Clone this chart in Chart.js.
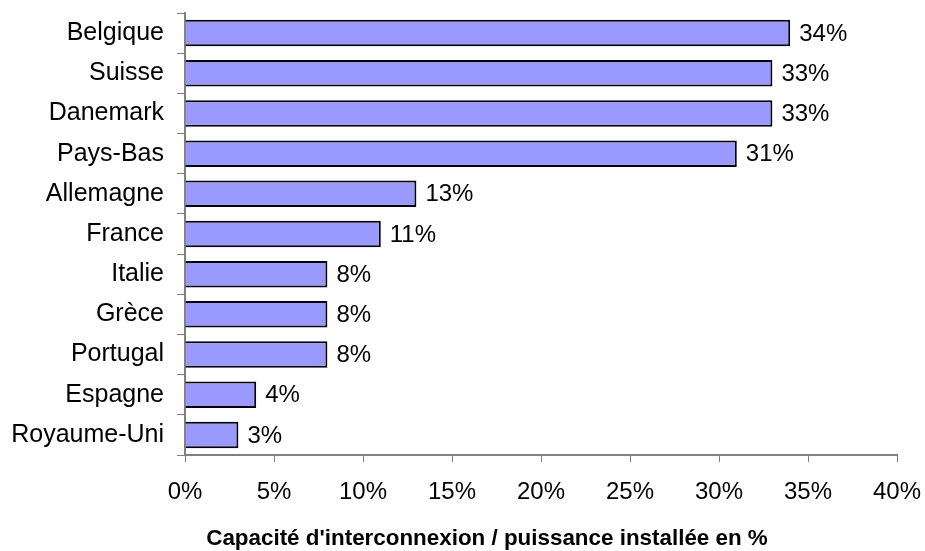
<!DOCTYPE html>
<html>
<head>
<meta charset="utf-8">
<script src="https://cdn.jsdelivr.net/npm/chart.js@4/dist/chart.umd.min.js"></script>
<style>
  html, body { margin: 0; padding: 0; background: #fff; }
  canvas { display: block; }
</style>
</head>
<body>
<canvas id="chart" width="925" height="551"></canvas>
<script>
// Interconnection capacity as a share of installed capacity, by country
const countries = ['Belgique', 'Suisse', 'Danemark', 'Pays-Bas', 'Allemagne', 'France',
  'Italie', 'Grèce', 'Portugal', 'Espagne', 'Royaume-Uni'];
const ratios = [34, 33, 33, 31, 13, 11, 8, 8, 8, 4, 3];
const axisTitle = "Capacité d'interconnexion / puissance installée en %";

const FONT = 'Liberation Sans';

// writes "34%" etc. just right of each bar end
const barLabels = {
  id: 'barLabels',
  afterDatasetsDraw(chart) {
    const ctx = chart.ctx;
    const meta = chart.getDatasetMeta(0);
    ctx.save();
    ctx.font = '24px "' + FONT + '"';
    ctx.fillStyle = '#000';
    ctx.textAlign = 'left';
    ctx.textBaseline = 'middle';
    meta.data.forEach((bar, i) => {
      ctx.fillText(ratios[i] + '%', bar.x + 9, bar.y + 1);
    });
    ctx.restore();
  }
};

// bold axis caption under the tick labels, sitting a bit left of the plot centre
const xCaption = {
  id: 'xCaption',
  afterDraw(chart) {
    const ctx = chart.ctx;
    ctx.save();
    ctx.font = 'bold 22.4px "' + FONT + '"';
    ctx.fillStyle = '#000';
    ctx.textAlign = 'center';
    ctx.textBaseline = 'alphabetic';
    ctx.fillText(axisTitle, 487, 545);
    ctx.restore();
  }
};

// drop the extra room Chart.js reserves for edge labels
function noEdgePadding(scale) {
  scale.paddingLeft = 0;
  scale.paddingRight = 0;
  scale.paddingTop = 0;
  scale.paddingBottom = 0;
}

new Chart(document.getElementById('chart'), {
  type: 'bar',
  data: {
    labels: countries,
    datasets: [{
      data: ratios,
      backgroundColor: '#9999ff',
      borderColor: '#000',
      borderWidth: 2,
      barPercentage: 0.66,
      categoryPercentage: 1
    }]
  },
  options: {
    indexAxis: 'y',
    responsive: false,
    animation: false,
    layout: { padding: { top: 13, right: 28, left: 0, bottom: 0 } },
    plugins: {
      legend: { display: false },
      tooltip: { enabled: false }
    },
    scales: {
      y: {
        afterFit(scale) { scale.width = 185; noEdgePadding(scale); },
        border: { color: '#808080', width: 2 },
        grid: { drawOnChartArea: false, color: '#808080', lineWidth: 1, tickLength: 8 },
        ticks: { color: '#000', padding: 13, font: { family: FONT, size: 25 } }
      },
      x: {
        min: 0,
        max: 40,
        afterFit(scale) { scale.height = 96; noEdgePadding(scale); },
        border: { color: '#808080', width: 2 },
        grid: { drawOnChartArea: false, color: '#808080', lineWidth: 1, tickLength: 7 },
        ticks: {
          stepSize: 5,
          color: '#000',
          padding: 16,
          maxRotation: 0,
          font: { family: FONT, size: 24 },
          callback: v => v + '%'
        }
      }
    }
  },
  plugins: [barLabels, xCaption]
});
</script>
</body>
</html>
